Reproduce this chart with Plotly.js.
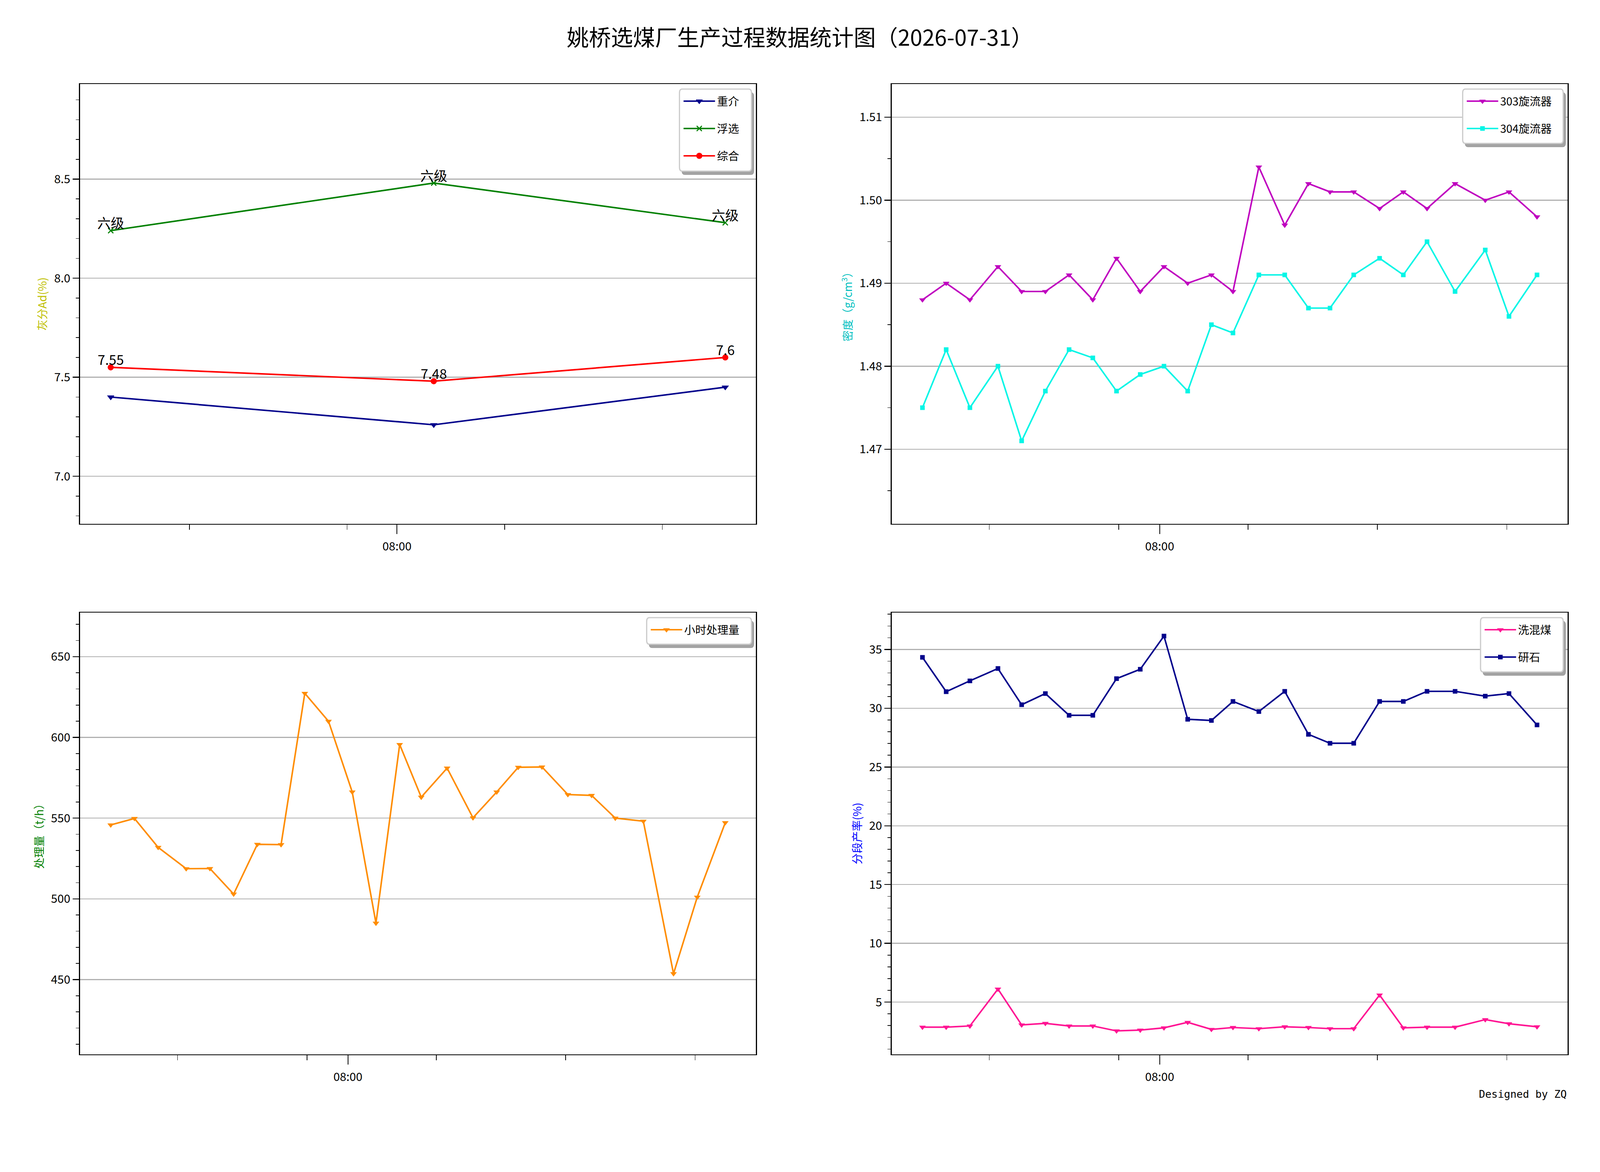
<!DOCTYPE html>
<html>
<head>
<meta charset="utf-8">
<script src="https://cdn.plot.ly/plotly-3.0.1.min.js"></script>
<style>html, body { margin: 0; padding: 0; background: #fff; overflow: hidden; }</style>
</head>
<body>
<div id="chart"></div>
<script>
// 灰分, one value per shift
var ashTimes = ['06:11', '08:14', '10:05'];
var ashHeavy = [7.40, 7.26, 7.45];     // 重介
var ashFloat = [8.24, 8.48, 8.28];     // 浮选
var ashMix = [7.55, 7.48, 7.6];        // 综合
var ashGrade = ['六级', '六级', '六级'];

// sampled every ~11 min
var times = ['06:10', '06:21', '06:32', '06:45', '06:56', '07:07', '07:18', '07:29', '07:40', '07:51',
  '08:02', '08:13', '08:24', '08:34', '08:46', '08:58', '09:09', '09:19', '09:30', '09:42',
  '09:53', '10:04', '10:17', '10:31', '10:42', '10:55'];
var density303 = [1.488, 1.490, 1.488, 1.492, 1.489, 1.489, 1.491, 1.488, 1.493, 1.489,
  1.492, 1.490, 1.491, 1.489, 1.504, 1.497, 1.502, 1.501, 1.501, 1.499,
  1.501, 1.499, 1.502, 1.500, 1.501, 1.498];
var density304 = [1.475, 1.482, 1.475, 1.480, 1.471, 1.477, 1.482, 1.481, 1.477, 1.479,
  1.480, 1.477, 1.485, 1.484, 1.491, 1.491, 1.487, 1.487, 1.491, 1.493,
  1.491, 1.495, 1.489, 1.494, 1.486, 1.491];
var throughput = [545.8, 549.8, 531.9, 518.7, 518.8, 503.0, 533.8, 533.6, 627.3, 610.0,
  566.2, 485.0, 595.6, 563.0, 581.0, 550.2, 566.2, 581.5, 581.7, 564.6,
  564.1, 550.0, 548.1, 453.7, 501.1, 547.2];
var yieldWashed = [2.87, 2.87, 2.97, 6.11, 3.06, 3.19, 2.97, 2.97, 2.55, 2.62,
  2.81, 3.28, 2.68, 2.84, 2.74, 2.90, 2.84, 2.74, 2.74, 5.60,
  2.81, 2.87, 2.87, 3.51, 3.16, 2.90];   // 洗混煤
var yieldGangue = [34.33, 31.41, 32.33, 33.38, 30.30, 31.25, 29.40, 29.40, 32.52, 33.32,
  36.14, 29.06, 28.96, 30.58, 29.72, 31.44, 27.78, 27.02, 27.02, 30.58,
  30.58, 31.44, 31.44, 31.03, 31.25, 28.58];  // 研石

var majorTimes = ['08:00'];
var minorTimes = ['06:41', '07:41', '08:41', '09:41', '10:41'];

function toHour(t) {
  var p = t.split(':');
  return +p[0] + p[1] / 60;
}
function lo(a) { return Math.min.apply(null, a); }
function hi(a) { return Math.max.apply(null, a); }
// matplotlib style 5% margins on x
function xRange(a) {
  var d = (hi(a) - lo(a)) * 0.05;
  return [lo(a) - d, hi(a) + d];
}
// y limits were set as min - pad, max + pad
function yRange(a, pad) { return [lo(a) - pad, hi(a) + pad]; }

var ashX = ashTimes.map(toHour);
var hx = times.map(toHour);

// the layout is laid out on a 6000 x 3000 grid and stretched to the window
var W = window.innerWidth, H = window.innerHeight;
var kx = W / 6000, ky = H / 3000;
var kf = Math.sqrt(kx * ky) * 0.95;
function fx(px) { return px / 6000; }
function fy(py) { return 1 - py / 3000; }

var FONT = 'Noto Sans CJK SC';
var navy = '#00008B';

function series(x, y, name, color, symbol, size, n) {
  var mk = {symbol: symbol, size: size * kf, color: color};
  if (symbol === 'x-thin') mk.line = {color: color, width: 3.5 * kf};
  var s = n > 1 ? String(n) : '';
  return {
    x: x, y: y, name: name, type: 'scatter', mode: 'lines+markers',
    line: {color: color, width: 5 * kf},
    marker: mk,
    xaxis: 'x' + s, yaxis: 'y' + s, legend: 'legend' + s, legendgroup: name
  };
}

var data = [
  series(ashX, ashHeavy, '重介', navy, 'triangle-down', 21, 1),
  series(ashX, ashFloat, '浮选', 'green', 'x-thin', 17, 1),
  series(ashX, ashMix, '综合', 'red', 'circle', 20, 1),
  series(hx, density303, '303旋流器', '#BF00BF', 'triangle-down', 19, 2),
  series(hx, density304, '304旋流器', '#05F5E6', 'square', 15, 2),
  series(hx, throughput, '小时处理量', '#FF8C00', 'triangle-down', 19, 3),
  series(hx, yieldWashed, '洗混煤', '#FF1493', 'triangle-down', 19, 4),
  series(hx, yieldGangue, '研石', navy, 'square', 15, 4)
];

function xAxis(domain, anchor, range) {
  return {
    domain: domain, anchor: anchor, range: range,
    showline: true, mirror: true, linecolor: 'black', linewidth: 3 * kf,
    showgrid: false, zeroline: false,
    ticks: 'outside', ticklen: 24 * ky, tickwidth: 3 * kf, tickcolor: 'black',
    tickmode: 'array', tickvals: majorTimes.map(toHour), ticktext: majorTimes,
    ticklabelstandoff: 6 * ky,
    tickfont: {family: FONT, size: 38 * kf, color: 'black'},
    minor: {tickmode: 'array', tickvals: minorTimes.map(toHour), ticks: 'outside',
      ticklen: 13 * ky, tickwidth: 2 * kf, tickcolor: 'black', showgrid: false}
  };
}

function yAxis(domain, anchor, range, tick0, dtick, minor, fmt, title, color) {
  return {
    domain: domain, anchor: anchor, range: range,
    showline: true, mirror: true, linecolor: 'black', linewidth: 3 * kf,
    showgrid: true, gridcolor: '#b0b0b0', gridwidth: 3 * kf, zeroline: false,
    ticks: 'outside', ticklen: 24 * kx, tickwidth: 3 * kf, tickcolor: 'black',
    tick0: tick0, dtick: dtick, tickformat: fmt,
    tickfont: {family: FONT, size: 38 * kf, color: 'black'},
    minor: {tick0: tick0, dtick: minor, ticks: 'outside', ticklen: 12 * kx, tickwidth: 2 * kf,
      tickcolor: 'black', showgrid: false},
    title: {text: title, standoff: 16 * kx, font: {family: FONT, size: 36 * kf, color: color}}
  };
}

// legend frames (reference grid px): left, top, right, rows
var frames = [[2548, 228, 2818, 3], [5485, 228, 5862, 2], [2425, 1581, 2818, 1], [5552, 1581, 5862, 2]];

function legendAt(f) {
  var rowH = 1.3 * 36 * kf + 4;
  return {
    x: fx(f[0] + 8), y: fy(f[1] + 6), xanchor: 'left', yanchor: 'top',
    bgcolor: 'rgba(0,0,0,0)', borderwidth: 0,
    font: {family: FONT, size: 36 * kf, color: 'black'},
    itemwidth: 118 * kx, tracegroupgap: Math.max(0, 71 * ky - rowH), traceorder: 'grouped'
  };
}

// rounded box path in paper units, built from reference grid px
function roundBox(x0, y0, x1, y1, r) {
  var X = function (v) { return fx(v).toFixed(6); };
  var Y = function (v) { return fy(v).toFixed(6); };
  return 'M' + X(x0 + r) + ',' + Y(y0) + ' L' + X(x1 - r) + ',' + Y(y0) +
    ' Q' + X(x1) + ',' + Y(y0) + ' ' + X(x1) + ',' + Y(y0 + r) +
    ' L' + X(x1) + ',' + Y(y1 - r) + ' Q' + X(x1) + ',' + Y(y1) + ' ' + X(x1 - r) + ',' + Y(y1) +
    ' L' + X(x0 + r) + ',' + Y(y1) + ' Q' + X(x0) + ',' + Y(y1) + ' ' + X(x0) + ',' + Y(y1 - r) +
    ' L' + X(x0) + ',' + Y(y0 + r) + ' Q' + X(x0) + ',' + Y(y0) + ' ' + X(x0 + r) + ',' + Y(y0) + ' Z';
}

var shapes = [];
frames.forEach(function (f) {
  var bottom = f[1] + 71 * f[3] - 3;
  shapes.push({type: 'path', xref: 'paper', yref: 'paper', layer: 'above',
    path: roundBox(f[0] + 9, f[1] + 9, f[2] + 9, bottom + 9, 10),
    fillcolor: '#a3a3a3', line: {color: '#8f8f8f', width: 1}});
  shapes.push({type: 'path', xref: 'paper', yref: 'paper', layer: 'above',
    path: roundBox(f[0], f[1], f[2], bottom, 10),
    fillcolor: 'white', line: {color: '#cccccc', width: 4 * kf}});
});

var annotations = [];
var labFont = {family: FONT, size: 44 * kf, color: 'black'};
ashX.forEach(function (x, i) {
  annotations.push({xref: 'x', yref: 'y', x: x, y: ashFloat[i], text: ashGrade[i],
    showarrow: false, yanchor: 'bottom', yshift: -6 * ky, font: labFont});
  annotations.push({xref: 'x', yref: 'y', x: x, y: ashMix[i], text: String(ashMix[i]),
    showarrow: false, yanchor: 'bottom', yshift: -6 * ky, font: labFont});
});
annotations.push({xref: 'paper', yref: 'paper', x: fx(5879), y: fy(2800),
  xanchor: 'right', yanchor: 'middle', showarrow: false, text: 'Designed by ZQ',
  font: {family: 'DejaVu Sans Mono', size: 34 * kf, color: 'black'}});

var xL = [fx(300), fx(2835)], xR = [fx(3344), fx(5879)];
var yT = [fy(1341), fy(215)], yB = [fy(2699), fy(1568)];

var layout = {
  width: W, height: H,
  margin: {l: 0, r: 0, t: 0, b: 0},
  paper_bgcolor: 'white', plot_bgcolor: 'white',
  font: {family: FONT, color: 'black'},
  title: {text: '姚桥选煤厂生产过程数据统计图（2026-07-31）', x: 0.5, xanchor: 'center',
    y: fy(97), yanchor: 'middle', font: {family: FONT, size: 72 * kf, color: 'black'}},
  showlegend: true,
  xaxis: xAxis(xL, 'y', xRange(ashX)),
  yaxis: yAxis(yT, 'x', yRange(ashHeavy.concat(ashFloat, ashMix), 0.5), 7, 0.5, 0.1, '.1f',
    '灰分Ad(%)', '#BFBF00'),
  xaxis2: xAxis(xR, 'y2', xRange(hx)),
  yaxis2: yAxis(yT, 'x2', yRange(density303.concat(density304), 0.01), 1.47, 0.01, 0.005, '.2f',
    '密度（g/cm<sup>3</sup>）', '#00BFBF'),
  xaxis3: xAxis(xL, 'y3', xRange(hx)),
  yaxis3: yAxis(yB, 'x3', yRange(throughput, 50), 450, 50, 10, '', '处理量（t/h）', 'green'),
  xaxis4: xAxis(xR, 'y4', xRange(hx)),
  yaxis4: yAxis(yB, 'x4', yRange(yieldWashed.concat(yieldGangue), 2), 5, 5, 1, '', '分段产率(%)', 'blue'),
  legend: legendAt(frames[0]),
  legend2: legendAt(frames[1]),
  legend3: legendAt(frames[2]),
  legend4: legendAt(frames[3]),
  shapes: shapes,
  annotations: annotations
};

Plotly.newPlot('chart', data, layout, {displayModeBar: false, staticPlot: true});
</script>
</body>
</html>
